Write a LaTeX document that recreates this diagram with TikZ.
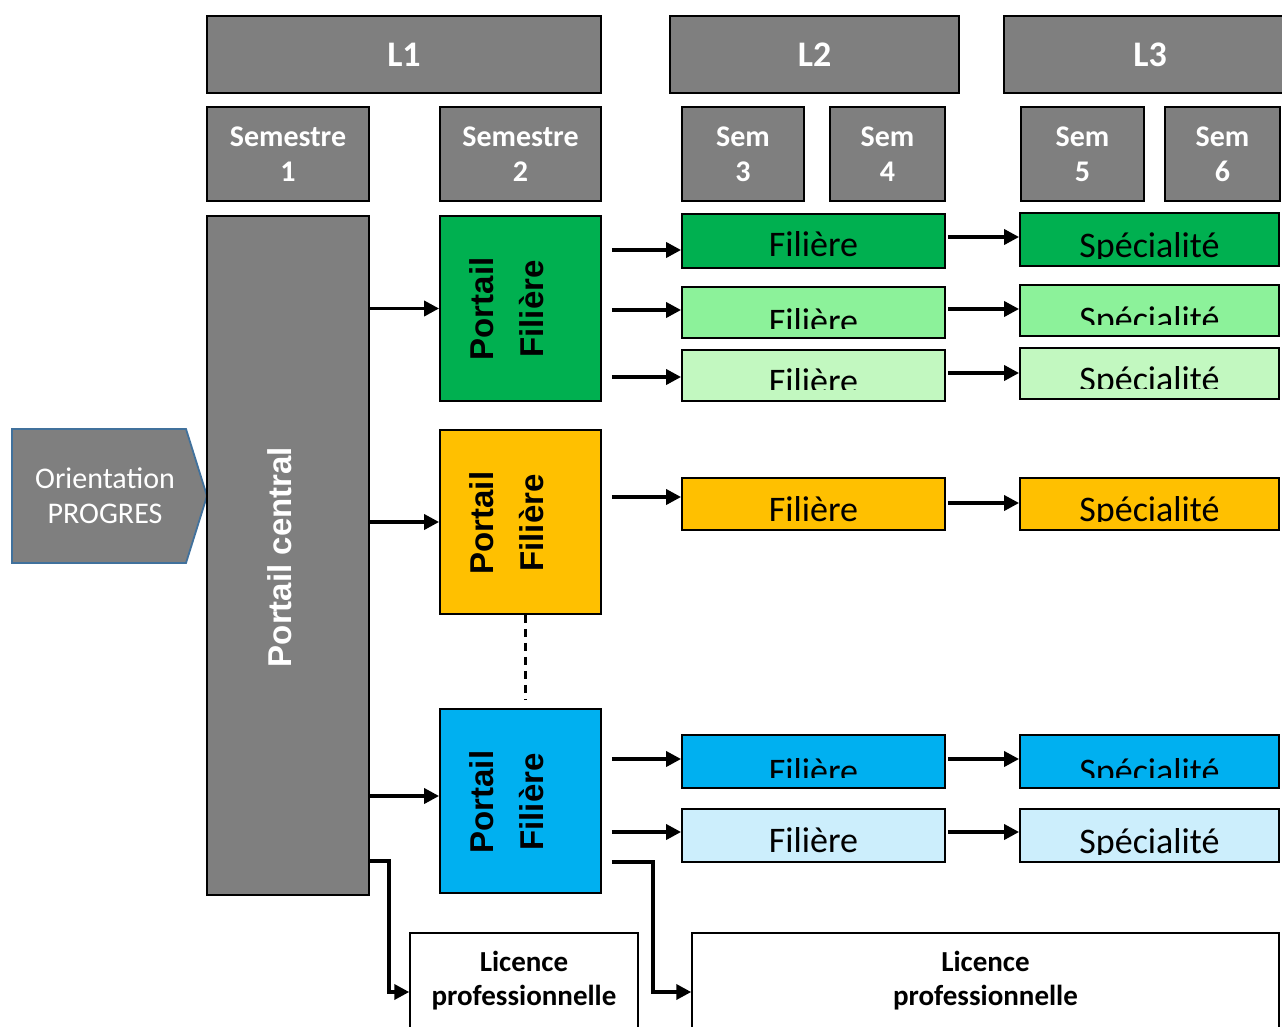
\documentclass[tikz,border=0pt]{standalone}
\usepackage{fontspec}
\setmainfont{Carlito}
\newfontfamily\arialfont{Liberation Sans}
\usetikzlibrary{arrows.meta,positioning}

\definecolor{gris}{HTML}{7F7F7F}
\definecolor{vertfonce}{HTML}{00B050}
\definecolor{vertmoyen}{HTML}{8CF29A}
\definecolor{vertclair}{HTML}{C2F8C0}
\definecolor{jaune}{HTML}{FFC000}
\definecolor{bleu}{HTML}{00B0F0}
\definecolor{bleuclair}{HTML}{CCEEFC}
\definecolor{bordbleu}{HTML}{41719C}

\tikzset{
  graybox/.style={draw=black, line width=2.4pt, fill=gris, text=white, align=center, inner sep=0pt},
  yearbox/.style={graybox, minimum height=77pt, font=\bfseries\fontsize{36}{40}\selectfont},
  sembox/.style={graybox, minimum height=94pt, font=\bfseries\fontsize{30}{35}\selectfont},
  portalbox/.style={draw=black, line width=1.8pt, minimum width=161pt, minimum height=184pt, inner sep=0pt},
  portaltext/.style={rotate=90, align=center, inner sep=0pt, font=\arialfont\bfseries\fontsize{33}{50}\selectfont},
  rowbox/.style={draw=black, line width=1.8pt, inner sep=0pt},
  rowtext/.style={anchor=base, inner sep=0pt, font=\fontsize{36}{40}\selectfont},
  licencebox/.style={draw=black, line width=1.5pt, fill=white, minimum height=118pt, inner sep=0pt},
  licencetext/.style={anchor=north, align=center, inner sep=0pt, font=\bfseries\fontsize{29}{34}\selectfont},
  arr/.style={line width=3.6pt, -{Triangle[length=15pt,width=15pt]}},
}

% label cut at its bottom, as in the box of the slide
\newcommand{\cutlabel}[5]{%
  \begin{scope}
    \clip (0,0) rectangle (1282,#4);
    \node[rowtext] (#1) at (#2,#3) {#5};
  \end{scope}}

\begin{document}
\begin{tikzpicture}[x=1pt,y=-1pt]
\useasboundingbox (0,0) rectangle (1282,1027);

% annees
\node[yearbox, minimum width=394pt] (annee1) at (404,54.5) {L1};
\node[yearbox, minimum width=289pt] (annee2) at (814.5,54.5) {L2};
\node[yearbox, minimum width=292pt] (annee3) at (1150,54.5) {L3};

% semestres
\node[sembox, minimum width=162pt] (semestre1) at (288,154) {Semestre\\1};
\node[sembox, minimum width=161pt] (semestre2) at (520.5,154) {Semestre\\2};
\node[sembox, minimum width=122pt] (semestre3) at (743,154) {Sem\\3};
\node[sembox, minimum width=115pt] (semestre4) at (887.5,154) {Sem\\4};
\node[sembox, minimum width=123pt] (semestre5) at (1082.5,154) {Sem\\5};
\node[sembox, minimum width=115pt] (semestre6) at (1222.5,154) {Sem\\6};

% orientation
\draw[fill=gris, draw=bordbleu, line width=1.8pt]
  (12,429) -- (186,429) -- (207,496) -- (186,563) -- (12,563) -- cycle;
\node[align=center, inner sep=0pt, text=white, font=\fontsize{30}{35}\selectfont]
  (orientation) at (105,496) {Orientation\\PROGRES};

% portail central
\node[graybox, minimum width=162pt, minimum height=679pt] (central) at (288,555.5) {};
\node[rotate=90, inner sep=0pt, text=white, font=\arialfont\bfseries\fontsize{33}{38}\selectfont]
  (centraltxt) at (280,557) {Portail central};

% portails filiere
\node[portalbox, fill=vertfonce, minimum height=185pt] (portail1) at (520.5,308.5) {};
\node[portaltext] (portail1txt) at (507,309) {Portail\\Filière};
\node[portalbox, fill=jaune] (portail2) at (520.5,522) {};
\node[portaltext] (portail2txt) at (507,523) {Portail\\Filière};
\node[portalbox, fill=bleu] (portail3) at (520.5,801) {};
\node[portaltext] (portail3txt) at (507,802) {Portail\\Filière};
\draw[line width=2.6pt, dash pattern=on 8pt off 6pt]
  ([xshift=5pt]portail2.south) -- ([xshift=5pt,yshift=9pt]portail3.north);

% filieres
\node[rowbox, fill=vertfonce, minimum width=263pt, minimum height=54pt] (filiere1) at (813.5,241) {};
\node[rowbox, fill=vertmoyen, minimum width=263pt, minimum height=51pt] (filiere2) at (813.5,312.5) {};
\node[rowbox, fill=vertclair, minimum width=263pt, minimum height=51pt] (filiere3) at (813.5,375.5) {};
\node[rowbox, fill=jaune, minimum width=263pt, minimum height=52pt] (filiere4) at (813.5,504) {};
\node[rowbox, fill=bleu, minimum width=263pt, minimum height=53pt] (filiere5) at (813.5,761.5) {};
\node[rowbox, fill=bleuclair, minimum width=263pt, minimum height=53pt] (filiere6) at (813.5,835.5) {};
\cutlabel{filiere1txt}{813.5}{256}{266}{Filière}
\cutlabel{filiere2txt}{813.5}{333}{328}{Filière}
\cutlabel{filiere3txt}{813.5}{393}{389}{Filière}
\cutlabel{filiere4txt}{813.5}{521}{523}{Filière}
\cutlabel{filiere5txt}{813.5}{783}{777}{Filière}
\cutlabel{filiere6txt}{813.5}{852}{860}{Filière}

% specialites
\node[rowbox, fill=vertfonce, minimum width=259pt, minimum height=53pt] (specialite1) at (1149.5,239.5) {};
\node[rowbox, fill=vertmoyen, minimum width=259pt, minimum height=51pt] (specialite2) at (1149.5,310.5) {};
\node[rowbox, fill=vertclair, minimum width=259pt, minimum height=51pt] (specialite3) at (1149.5,373.5) {};
\node[rowbox, fill=jaune, minimum width=259pt, minimum height=52pt] (specialite4) at (1149.5,504) {};
\node[rowbox, fill=bleu, minimum width=259pt, minimum height=53pt] (specialite5) at (1149.5,761.5) {};
\node[rowbox, fill=bleuclair, minimum width=259pt, minimum height=53pt] (specialite6) at (1149.5,835.5) {};
\cutlabel{specialite1txt}{1149.5}{258}{258}{Spécialité}
\cutlabel{specialite2txt}{1149.5}{331}{324}{Spécialité}
\cutlabel{specialite3txt}{1149.5}{391}{388}{Spécialité}
\cutlabel{specialite4txt}{1149.5}{521}{521}{Spécialité}
\cutlabel{specialite5txt}{1149.5}{783}{777}{Spécialité}
\cutlabel{specialite6txt}{1149.5}{853}{854}{Spécialité}

% licences pro
\node[licencebox, minimum width=228pt] (licence1) at (524,992) {};
\node[licencetext] (licence1txt) at (524,951) {Licence\\professionnelle};
\node[licencebox, minimum width=587pt] (licence2) at (985.5,992) {};
\node[licencetext] (licence2txt) at (985.5,951) {Licence\\professionnelle};

% fleches
\draw[arr] (central.east |- portail1.west) -- (portail1.west);
\draw[arr] (central.east |- portail2.west) -- (portail2.west);
\draw[arr] ([yshift=5pt]central.east |- portail3.west) -- ([yshift=5pt]portail3.west);
\foreach \p/\f/\s/\dy/\ey in {portail1/filiere1/specialite1/-9/2.5,
    portail1/filiere2/specialite2/2.5/1.5, portail1/filiere3/specialite3/-1.5/0.5,
    portail2/filiere4/specialite4/7/1, portail3/filiere5/specialite5/2.5/2.5,
    portail3/filiere6/specialite6/3.5/3.5}{
  \draw[arr] ([xshift=10pt,yshift=\dy pt]\p.east |- \f.west) -- ([yshift=\dy pt]\f.west);
  \draw[arr] ([xshift=2pt,yshift=\ey pt]\f.east |- \s.west) -- ([yshift=\ey pt]\s.west);
}
\draw[arr] (central.east |- 0,861) -- ++(19,0) |- (licence1.west);
\draw[arr] ([xshift=10pt]portail3.east |- 0,862) -- ++(41,0) |- (licence2.west);

\end{tikzpicture}
\end{document}
